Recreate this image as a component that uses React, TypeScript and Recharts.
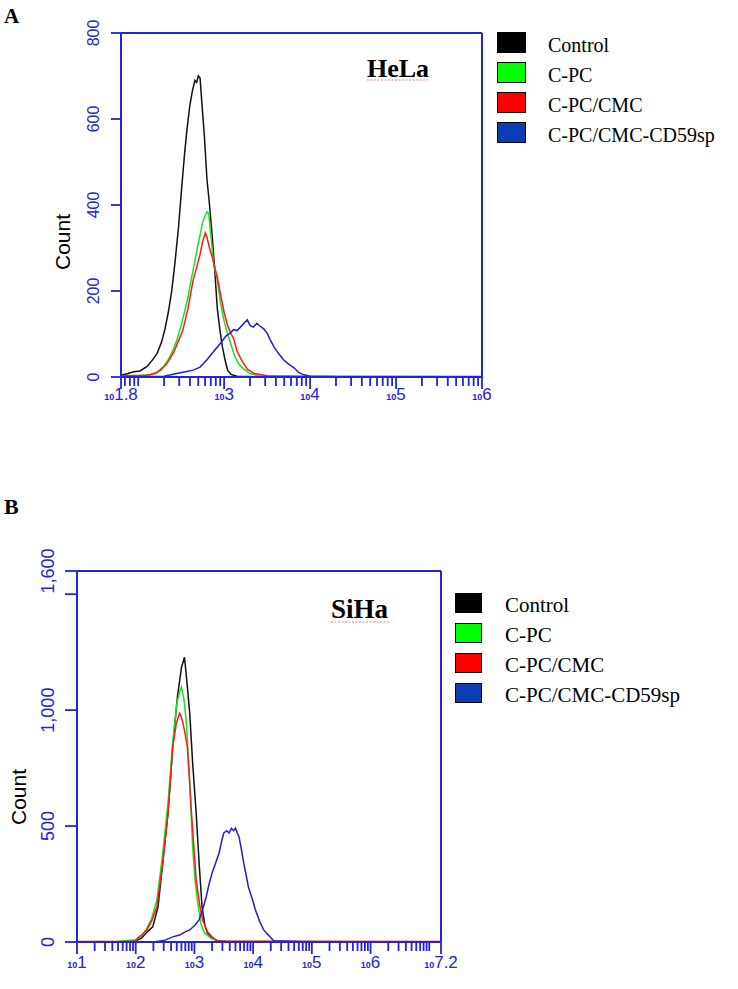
import React from 'react';
import { LineChart, Line, XAxis, YAxis, ReferenceLine, Legend } from 'recharts';

const AXIS_BLUE = '#2323dd';
const SANS = '"Liberation Sans", Arial, sans-serif';
const SERIF = '"Liberation Serif", "Times New Roman", serif';

const seriesNames = ['Control', 'C-PC', 'C-PC/CMC', 'C-PC/CMC-CD59sp'];
const lineColors = ['#111111', '#1ee01e', '#ff1a1a', '#2020d0'];
const swatchColors = ['#000000', '#00ff00', '#ff0000', '#0a3cb4'];

// ---------- Panel A: HeLa (x = log10 fluorescence) ----------
const helaControlX = [1.8, 1.88, 1.95, 2.02, 2.1, 2.16, 2.22, 2.27, 2.31, 2.35, 2.39, 2.43, 2.47, 2.51, 2.54, 2.57, 2.6, 2.63, 2.66, 2.68, 2.7, 2.72, 2.74, 2.77, 2.8, 2.83, 2.86, 2.89, 2.92, 2.95, 2.98, 3.01, 3.04, 3.08, 3.15, 3.5, 4.0, 5.0, 6.0];
const helaControlY = [4, 8, 12, 14, 24, 38, 55, 80, 110, 150, 200, 270, 350, 450, 520, 580, 630, 665, 690, 685, 700, 695, 640, 560, 460, 400, 330, 250, 160, 110, 70, 40, 16, 6, 2, 0, 0, 0, 0];
const helaCpcX = [1.8, 2.0, 2.15, 2.22, 2.29, 2.35, 2.4, 2.45, 2.5, 2.55, 2.58, 2.62, 2.66, 2.69, 2.72, 2.75, 2.78, 2.8, 2.82, 2.84, 2.86, 2.88, 2.92, 2.96, 3.0, 3.04, 3.08, 3.12, 3.17, 3.22, 3.3, 3.4, 3.6, 4.5, 6.0];
const helaCpcY = [2, 3, 6, 12, 23, 40, 60, 86, 120, 160, 186, 230, 270, 302, 330, 360, 375, 384, 380, 340, 300, 260, 226, 170, 130, 100, 75, 50, 30, 20, 8, 3, 1, 0, 0];
const helaCmcX = [1.8, 2.1, 2.2, 2.26, 2.33, 2.41, 2.46, 2.52, 2.58, 2.64, 2.68, 2.72, 2.75, 2.78, 2.8, 2.83, 2.86, 2.89, 2.92, 2.96, 3.0, 3.04, 3.08, 3.11, 3.15, 3.2, 3.27, 3.35, 3.5, 4.0, 6.0];
const helaCmcY = [3, 4, 8, 16, 30, 56, 80, 109, 160, 226, 255, 285, 315, 335, 325, 300, 280, 255, 233, 190, 150, 120, 100, 90, 60, 40, 18, 8, 3, 2, 1];
const helaCd59X = [1.8, 2.3, 2.45, 2.55, 2.64, 2.72, 2.8, 2.88, 2.96, 3.02, 3.07, 3.11, 3.15, 3.19, 3.23, 3.27, 3.3, 3.34, 3.38, 3.42, 3.46, 3.5, 3.54, 3.58, 3.62, 3.69, 3.75, 3.81, 3.87, 3.93, 4.0, 4.5, 6.0];
const helaCd59Y = [0, 2, 8, 12, 16, 23, 40, 60, 79, 95, 102, 110, 108, 116, 125, 133, 120, 116, 125, 118, 112, 102, 85, 70, 58, 40, 30, 22, 10, 5, 2, 0, 0];
const helaYTicks = [0, 200, 400, 600, 800];
const helaXMajor = [1.8, 3, 4, 5, 6];
const helaXMajorLabels = ['1.8', '3', '4', '5', '6'];

// ---------- Panel B: SiHa ----------
const sihaControlX = [1.0, 1.8, 2.0, 2.1, 2.2, 2.29, 2.38, 2.46, 2.55, 2.63, 2.71, 2.78, 2.81, 2.83, 2.85, 2.88, 2.92, 2.97, 3.03, 3.08, 3.13, 3.18, 3.22, 3.3, 3.4, 3.6, 5.0, 7.2];
const sihaControlY = [0, 0, 5, 17, 45, 65, 151, 340, 556, 840, 1056, 1185, 1210, 1228, 1180, 1100, 987, 771, 556, 340, 151, 70, 39, 17, 5, 0, 0, 0];
const sihaCpcX = [1.0, 1.4, 1.6, 2.0, 2.1, 2.19, 2.27, 2.36, 2.46, 2.55, 2.63, 2.7, 2.75, 2.78, 2.82, 2.86, 2.92, 2.97, 3.01, 3.05, 3.11, 3.17, 3.28, 3.4, 4.5, 7.2];
const sihaCpcY = [0, 2, 0, 10, 25, 60, 100, 180, 380, 600, 860, 1030, 1080, 1099, 1050, 957, 698, 409, 270, 181, 80, 39, 17, 3, 2, 0];
const sihaCmcX = [1.0, 2.0, 2.03, 2.1, 2.19, 2.28, 2.36, 2.46, 2.55, 2.63, 2.69, 2.73, 2.75, 2.77, 2.8, 2.84, 2.88, 2.95, 3.03, 3.09, 3.14, 3.22, 3.3, 3.4, 7.2];
const sihaCmcY = [2, 2, 17, 30, 52, 95, 151, 340, 556, 840, 940, 975, 987, 975, 950, 900, 840, 556, 267, 160, 95, 45, 22, 3, 2];
const sihaCd59X = [1.0, 2.3, 2.5, 2.63, 2.75, 2.85, 2.92, 3.0, 3.08, 3.14, 3.2, 3.25, 3.3, 3.36, 3.42, 3.46, 3.5, 3.55, 3.59, 3.63, 3.67, 3.7, 3.73, 3.76, 3.8, 3.84, 3.88, 3.92, 3.98, 4.04, 4.11, 4.18, 4.24, 4.29, 4.35, 5.0, 7.2];
const sihaCd59Y = [0, 0, 8, 22, 30, 45, 52, 70, 95, 140, 194, 250, 297, 340, 384, 430, 470, 480, 470, 490, 480, 491, 470, 453, 400, 340, 290, 237, 190, 138, 90, 52, 35, 22, 5, 0, 0];
const sihaYTicks = [0, 500, 1000, 1500, 1600];
const sihaYLabels = ['0', '500', '1,000', '', '1,600'];
const sihaXMajor = [1, 2, 3, 4, 5, 6, 7.2];
const sihaXMajorLabels = ['1', '2', '3', '4', '5', '6', '7.2'];

const zip = (xs: number[], ys: number[]) => xs.map((x, i) => ({ x, y: ys[i] }));

const minorTicks = (lo: number, hi: number, majors: number[]) => {
  const out: number[] = [];
  for (let d = Math.floor(lo); d <= Math.floor(hi); d++) {
    for (let k = 1; k < 10; k++) {
      const v = d + Math.log10(k);
      if (v > lo + 1e-6 && v < hi - 1e-6 && !majors.some((m) => Math.abs(m - v) < 1e-6)) out.push(v);
    }
  }
  return out;
};

const makeXTick = (majors: number[], labels: string[], expSize: number, labelDy: number) => (props: any) => {
  const { x, y, payload } = props;
  const idx = majors.findIndex((m) => Math.abs(m - payload.value) < 1e-6);
  const major = idx >= 0;
  return (
    <g>
      <line x1={x} y1={y} x2={x} y2={y + (major ? 12 : 9)} stroke={AXIS_BLUE} strokeWidth={1.8} />
      {major && (
        <text x={x} y={y + labelDy} textAnchor="middle" fill={AXIS_BLUE} fontFamily={SANS}>
          <tspan fontSize={9} fontWeight="bold">10</tspan>
          <tspan fontSize={expSize}>{labels[idx]}</tspan>
        </text>
      )}
    </g>
  );
};

const makeYTick = (ticks: number[], labels: string[], fs: number, len: number, off: number) => (props: any) => {
  const { x, y, payload } = props;
  const idx = ticks.findIndex((t) => t === payload.value);
  const label = idx >= 0 ? labels[idx] : '';
  const tx = x - off;
  return (
    <g>
      <line x1={x - len} y1={y} x2={x} y2={y} stroke={AXIS_BLUE} strokeWidth={1.8} />
      {label !== '' && (
        <text x={tx} y={y} transform={`rotate(-90 ${tx} ${y})`} textAnchor="middle" fontSize={fs} fill={AXIS_BLUE} fontFamily={SANS}>
          {label}
        </text>
      )}
    </g>
  );
};

const LegendBox = ({ fs, sw, sh, gap, textLeft }: { fs: number; sw: number; sh: number; gap: number; textLeft: number }) => (
  <div style={{ position: 'relative', fontFamily: SERIF, fontSize: fs, color: '#000' }}>
    {seriesNames.map((n, i) => (
      <div key={n} style={{ position: 'absolute', left: 0, top: i * gap, height: sh, display: 'flex', alignItems: 'center', whiteSpace: 'nowrap' }}>
        <div style={{ width: sw, height: sh, background: swatchColors[i], border: '1.5px solid #000', boxSizing: 'border-box', flex: 'none' }} />
        <span style={{ marginLeft: textLeft - sw, lineHeight: 1, position: 'relative', top: 2 }}>{n}</span>
      </div>
    ))}
  </div>
);

const helaSeries = [zip(helaControlX, helaControlY), zip(helaCpcX, helaCpcY), zip(helaCmcX, helaCmcY), zip(helaCd59X, helaCd59Y)];
const sihaSeries = [zip(sihaControlX, sihaControlY), zip(sihaCpcX, sihaCpcY), zip(sihaCmcX, sihaCmcY), zip(sihaCd59X, sihaCd59Y)];

const helaXTicks = [...helaXMajor, ...minorTicks(1.8, 6, helaXMajor)].sort((a, b) => a - b);
const sihaXTicks = [...sihaXMajor, ...minorTicks(1, 7.2, sihaXMajor)].sort((a, b) => a - b);

export default function App() {
  return (
    <div style={{ position: 'absolute', left: 0, top: 0, width: 738, height: 989, background: '#fff', overflow: 'hidden' }}>
      {/* Panel A */}
      <div style={{ position: 'absolute', left: 0, top: 0 }}>
        <LineChart width={738} height={430} margin={{ top: 33, right: 256, bottom: 0, left: 0 }}>
          <XAxis
            type="number"
            dataKey="x"
            domain={[1.8, 6]}
            allowDataOverflow
            ticks={helaXTicks}
            interval={0}
            height={53}
            tickSize={0}
            tickMargin={0}
            tickLine={false}
            axisLine={{ stroke: AXIS_BLUE, strokeWidth: 2 }}
            tick={makeXTick(helaXMajor, helaXMajorLabels, 17, 23)}
          />
          <YAxis
            type="number"
            domain={[0, 800]}
            ticks={helaYTicks}
            interval={0}
            width={121}
            tickSize={0}
            tickMargin={0}
            tickLine={false}
            axisLine={{ stroke: AXIS_BLUE, strokeWidth: 2 }}
            tick={makeYTick(helaYTicks, helaYTicks.map(String), 16, 10, 22)}
          />
          <ReferenceLine y={800} stroke={AXIS_BLUE} strokeWidth={2} />
          <ReferenceLine x={6} stroke={AXIS_BLUE} strokeWidth={2} />
          {helaSeries.map((d, i) => (
            <Line key={seriesNames[i]} data={d} dataKey="y" name={seriesNames[i]} type="linear" stroke={lineColors[i]} strokeWidth={1.5} dot={false} activeDot={false} isAnimationActive={false} />
          ))}
          <Legend
            layout="vertical"
            align="center"
            verticalAlign="middle"
            wrapperStyle={{ position: 'absolute', left: 497, top: 32, width: 240, height: 120 }}
            content={() => <LegendBox fs={20} sw={29} sh={21} gap={30} textLeft={51} />}
          />
        </LineChart>
      </div>

      {/* Panel B */}
      <div style={{ position: 'absolute', left: 0, top: 480 }}>
        <LineChart width={738} height={509} margin={{ top: 91, right: 297, bottom: 0, left: 0 }}>
          <XAxis
            type="number"
            dataKey="x"
            domain={[1, 7.2]}
            allowDataOverflow
            ticks={sihaXTicks}
            interval={0}
            height={47}
            tickSize={0}
            tickMargin={0}
            tickLine={false}
            axisLine={{ stroke: AXIS_BLUE, strokeWidth: 2 }}
            tick={makeXTick(sihaXMajor, sihaXMajorLabels, 17, 26)}
          />
          <YAxis
            type="number"
            domain={[0, 1600]}
            ticks={sihaYTicks}
            interval={0}
            width={77}
            tickSize={0}
            tickMargin={0}
            tickLine={false}
            axisLine={{ stroke: AXIS_BLUE, strokeWidth: 2 }}
            tick={makeYTick(sihaYTicks, sihaYLabels, 18, 12, 23)}
          />
          <ReferenceLine y={1600} stroke={AXIS_BLUE} strokeWidth={2} />
          <ReferenceLine x={7.2} stroke={AXIS_BLUE} strokeWidth={2} />
          {sihaSeries.map((d, i) => (
            <Line key={seriesNames[i]} data={d} dataKey="y" name={seriesNames[i]} type="linear" stroke={lineColors[i]} strokeWidth={1.5} dot={false} activeDot={false} isAnimationActive={false} />
          ))}
          <Legend
            layout="vertical"
            align="center"
            verticalAlign="middle"
            wrapperStyle={{ position: 'absolute', left: 455, top: 113, width: 280, height: 120 }}
            content={() => <LegendBox fs={21} sw={27} sh={20} gap={30} textLeft={50} />}
          />
        </LineChart>
      </div>

      {/* Panel letters, cell-line titles and axis titles */}
      <svg width={738} height={989} style={{ position: 'absolute', left: 0, top: 0, pointerEvents: 'none' }}>
        <text x={4} y={23} fontFamily={SERIF} fontWeight="bold" fontSize={21} fill="#000">A</text>
        <text x={4} y={514} fontFamily={SERIF} fontWeight="bold" fontSize={22} fill="#000">B</text>
        <text x={367} y={77} fontFamily={SERIF} fontWeight="bold" fontSize={26} fill="#000">HeLa</text>
        <line x1={367} y1={80} x2={428} y2={80} stroke="#e05050" strokeWidth={1} strokeDasharray="2 1.5" opacity={0.7} />
        <text x={331} y={618} fontFamily={SERIF} fontWeight="bold" fontSize={27} fill="#000">SiHa</text>
        <line x1={331} y1={622} x2={391} y2={622} stroke="#e05050" strokeWidth={1} strokeDasharray="2 1.5" opacity={0.7} />
        <text x={70} y={242} transform="rotate(-90 70 242)" textAnchor="middle" fontFamily={SANS} fontSize={21} fill="#000">Count</text>
        <text x={26} y={797} transform="rotate(-90 26 797)" textAnchor="middle" fontFamily={SANS} fontSize={21} fill="#000">Count</text>
      </svg>
    </div>
  );
}
